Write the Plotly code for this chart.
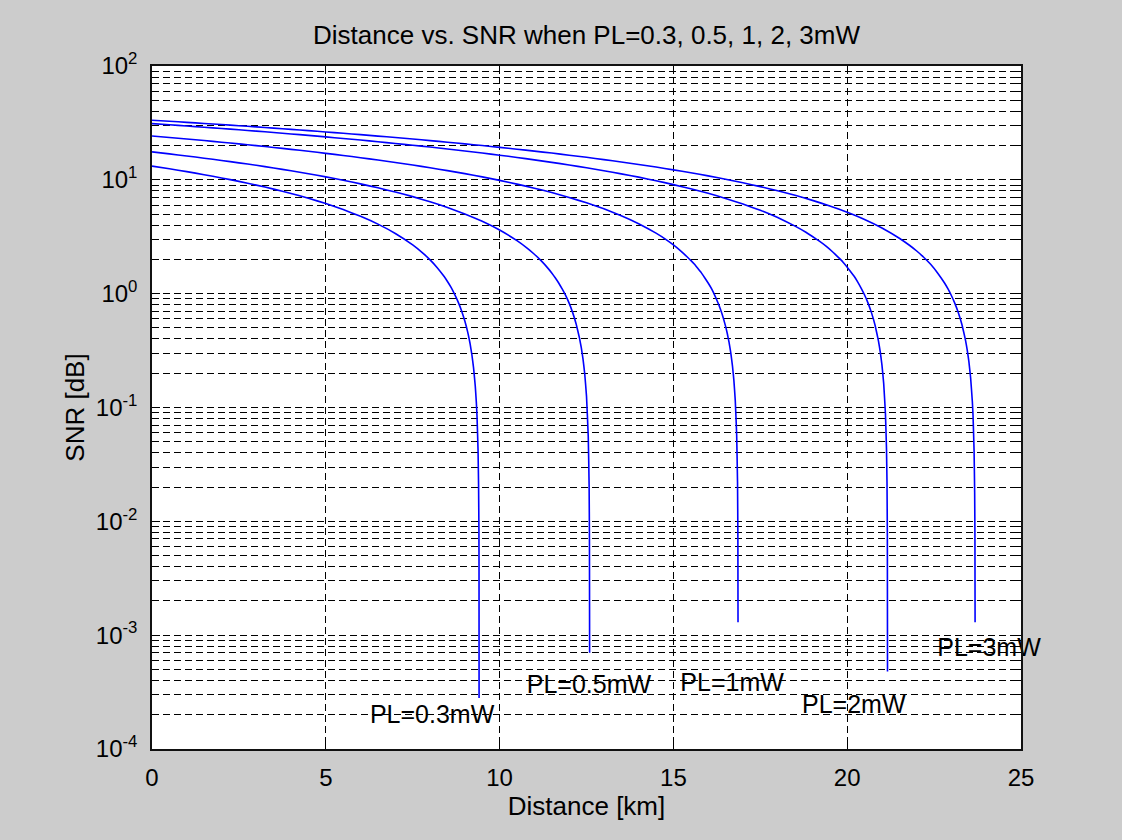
import plotly.graph_objects as go

# ---- data ----
series_names = ["PL=0.3mW", "PL=0.5mW", "PL=1mW", "PL=2mW", "PL=3mW"]

dist_03 = [0, 0.5, 1, 1.5, 2, 2.5, 3, 3.5, 4, 4.5, 5, 5.5, 6, 6.5, 7, 7.5, 7.8, 8, 8.2, 8.4, 8.5,
           8.6, 8.7, 8.8, 8.9, 9.0, 9.05, 9.1, 9.15, 9.2, 9.25, 9.3, 9.33, 9.35, 9.38, 9.395,
           9.405, 9.408, 9.4098]
snr_03 = [13.2, 12.50, 11.80, 11.10, 10.39, 9.69, 8.99, 8.29, 7.59, 6.89, 6.19, 5.48, 4.78, 4.08,
          3.38, 2.68, 2.26, 1.98, 1.70, 1.42, 1.28, 1.14, 0.996, 0.856, 0.715, 0.575, 0.505, 0.435,
          0.365, 0.295, 0.224, 0.154, 0.112, 0.084, 0.042, 0.021, 0.0084, 0.0042, 2.8e-4]

dist_05 = [0, 0.5, 1, 1.5, 2, 2.5, 3, 3.5, 4, 4.5, 5, 5.5, 6, 6.5, 7, 7.5, 8, 8.5, 9, 9.5, 10,
           10.5, 10.8, 11, 11.2, 11.4, 11.5, 11.6, 11.7, 11.8, 11.9, 12.0, 12.1, 12.2, 12.3, 12.35,
           12.4, 12.45, 12.5, 12.55, 12.575, 12.585, 12.5895]
snr_05 = [17.6, 16.90, 16.20, 15.50, 14.80, 14.10, 13.41, 12.71, 12.01, 11.31, 10.61, 9.91, 9.21,
          8.51, 7.81, 7.12, 6.42, 5.72, 5.02, 4.32, 3.62, 2.92, 2.50, 2.22, 1.94, 1.66, 1.52, 1.38,
          1.24, 1.10, 0.965, 0.825, 0.685, 0.545, 0.405, 0.335, 0.266, 0.196, 0.126, 0.056, 0.021,
          0.007, 7.0e-4]

dist_1 = [0, 0.5, 1, 1.5, 2, 2.5, 3, 3.5, 4, 4.5, 5, 5.5, 6, 6.5, 7, 7.5, 8, 8.5, 9, 9.5, 10,
          10.5, 11, 11.5, 12, 12.5, 13, 13.5, 14, 14.5, 14.8, 15, 15.2, 15.4, 15.5, 15.6, 15.7,
          15.8, 15.9, 16.0, 16.1, 16.2, 16.3, 16.4, 16.5, 16.55, 16.6, 16.65, 16.7, 16.74, 16.78,
          16.82, 16.845, 16.855, 16.8591]
snr_1 = [24.3, 23.58, 22.86, 22.14, 21.42, 20.70, 19.98, 19.26, 18.53, 17.81, 17.09, 16.37, 15.65,
         14.93, 14.21, 13.49, 12.77, 12.05, 11.33, 10.61, 9.89, 9.17, 8.45, 7.73, 7.00, 6.28, 5.56,
         4.84, 4.12, 3.40, 2.97, 2.68, 2.39, 2.10, 1.96, 1.82, 1.67, 1.53, 1.38, 1.24, 1.10, 0.951,
         0.807, 0.663, 0.519, 0.447, 0.375, 0.303, 0.231, 0.173, 0.115, 0.058, 0.022, 0.0072, 1.3e-3]

dist_2 = [0, 0.5, 1, 1.5, 2, 2.5, 3, 3.5, 4, 4.5, 5, 5.5, 6, 6.5, 7, 7.5, 8, 8.5, 9, 9.5, 10,
          10.5, 11, 11.5, 12, 12.5, 13, 13.5, 14, 14.5, 15, 15.5, 16, 16.5, 17, 17.5, 18, 18.5,
          18.8, 19, 19.2, 19.4, 19.6, 19.7, 19.8, 19.9, 20, 20.1, 20.2, 20.3, 20.4, 20.5, 20.6,
          20.7, 20.8, 20.9, 20.95, 21.0, 21.05, 21.1, 21.13, 21.145, 21.155, 21.1597]
snr_2 = [31.2, 30.46, 29.73, 28.99, 28.25, 27.51, 26.78, 26.04, 25.30, 24.57, 23.83, 23.09, 22.35,
         21.62, 20.88, 20.14, 19.40, 18.67, 17.93, 17.19, 16.46, 15.72, 14.98, 14.24, 13.51, 12.77,
         12.03, 11.29, 10.56, 9.82, 9.08, 8.35, 7.61, 6.87, 6.13, 5.40, 4.66, 3.92, 3.48, 3.18,
         2.89, 2.60, 2.30, 2.15, 2.01, 1.86, 1.71, 1.56, 1.42, 1.27, 1.12, 0.973, 0.826, 0.678,
         0.531, 0.383, 0.310, 0.236, 0.162, 0.088, 0.044, 0.022, 0.0074, 4.8e-4]

dist_3 = [0, 0.5, 1, 1.5, 2, 2.5, 3, 3.5, 4, 4.5, 5, 5.5, 6, 6.5, 7, 7.5, 8, 8.5, 9, 9.5, 10,
          10.5, 11, 11.5, 12, 12.5, 13, 13.5, 14, 14.5, 15, 15.5, 16, 16.5, 17, 17.5, 18, 18.5,
          19, 19.5, 20, 20.5, 21, 21.5, 21.8, 22, 22.2, 22.4, 22.6, 22.8, 22.9, 23.0, 23.1, 23.2,
          23.3, 23.4, 23.45, 23.5, 23.55, 23.6, 23.62, 23.65, 23.667, 23.675, 23.6791]
snr_3 = [33.4, 32.69, 31.99, 31.28, 30.58, 29.87, 29.17, 28.46, 27.76, 27.05, 26.35, 25.64, 24.94,
         24.23, 23.53, 22.82, 22.12, 21.41, 20.71, 20.00, 19.30, 18.59, 17.88, 17.18, 16.47, 15.77,
         15.06, 14.36, 13.65, 12.95, 12.24, 11.54, 10.83, 10.13, 9.42, 8.72, 8.01, 7.31, 6.60,
         5.90, 5.19, 4.49, 3.78, 3.07, 2.65, 2.37, 2.09, 1.81, 1.52, 1.24, 1.10, 0.959, 0.818,
         0.677, 0.536, 0.395, 0.324, 0.254, 0.183, 0.113, 0.085, 0.042, 0.018, 0.0071, 1.3e-3]

label_text = ["PL=0.3mW", "PL=0.5mW", "PL=1mW", "PL=2mW", "PL=3mW"]
label_x = [6.27, 10.78, 15.20, 18.70, 22.59]
label_y = [1.92e-4, 3.49e-4, 3.66e-4, 2.36e-4, 7.4e-4]

x_ticks = [0, 5, 10, 15, 20, 25]
y_ticks = [1e-4, 1e-3, 1e-2, 1e-1, 1e0, 1e1, 1e2]
y_ticktext = ["10<sup>-4</sup>", "10<sup>-3</sup>", "10<sup>-2</sup>", "10<sup>-1</sup>",
              "10<sup>0</sup>", "10<sup>1</sup>", "10<sup>2</sup>"]
y_minor = [2e-4, 3e-4, 4e-4, 5e-4, 6e-4, 7e-4, 8e-4, 9e-4,
           2e-3, 3e-3, 4e-3, 5e-3, 6e-3, 7e-3, 8e-3, 9e-3,
           2e-2, 3e-2, 4e-2, 5e-2, 6e-2, 7e-2, 8e-2, 9e-2,
           0.2, 0.3, 0.4, 0.5, 0.6, 0.7, 0.8, 0.9,
           2, 3, 4, 5, 6, 7, 8, 9,
           20, 30, 40, 50, 60, 70, 80, 90]

title_text = "Distance vs. SNR when PL=0.3, 0.5, 1, 2, 3mW"
x_title = "Distance [km]"
y_title = "SNR [dB]"

FONT = "Liberation Sans, Arial, sans-serif"
GRID_DASH = "7px,4px"
GRID_COLOR = "#000000"

fig = go.Figure()
all_d = [dist_03, dist_05, dist_1, dist_2, dist_3]
all_s = [snr_03, snr_05, snr_1, snr_2, snr_3]
for name, d, s in zip(series_names, all_d, all_s):
    fig.add_trace(go.Scatter(x=d, y=s, mode="lines", name=name,
                             line=dict(color="#0000ff", width=1.6, shape="spline", smoothing=0.3),
                             showlegend=False, hoverinfo="skip"))

fig.add_trace(go.Scatter(x=label_x, y=label_y, mode="text", text=label_text,
                         textposition="middle right", cliponaxis=False,
                         textfont=dict(family=FONT, size=25, color="black"),
                         showlegend=False, hoverinfo="skip"))

fig.update_layout(
    width=1122, height=840,
    paper_bgcolor="#cccccc", plot_bgcolor="white",
    margin=dict(l=152, r=101, t=66, b=91, pad=0, autoexpand=False),
    font=dict(family=FONT, size=24, color="black"),
    title=dict(text=title_text, x=0.5, xref="paper", xanchor="center",
               y=1 - 35 / 840, yref="container", yanchor="middle",
               font=dict(family=FONT, size=26, color="black")),
    xaxis=dict(range=[0, 25], tickvals=x_ticks, ticks="inside", ticklen=8,
               tickcolor="black", showline=True, linecolor="#111", linewidth=1.5,
               mirror="ticks", showgrid=True, gridcolor=GRID_COLOR, gridwidth=1.2,
               griddash=GRID_DASH, zeroline=False, ticklabelstandoff=6,
               tickfont=dict(size=24),
               title=dict(text=x_title, standoff=6, font=dict(size=26))),
    yaxis=dict(type="log", range=[-4, 2], tickvals=y_ticks, ticktext=y_ticktext,
               ticks="inside", ticklen=8, tickcolor="black",
               showline=True, linecolor="#111", linewidth=1.5, mirror="ticks",
               showgrid=True, gridcolor=GRID_COLOR, gridwidth=1.2, griddash=GRID_DASH,
               zeroline=False, ticklabelstandoff=8, tickfont=dict(size=24),
               minor=dict(tickvals=y_minor, ticks="inside", ticklen=5,
                          tickcolor="black", showgrid=True, gridcolor=GRID_COLOR,
                          gridwidth=1.2, griddash=GRID_DASH),
               title=dict(text=y_title, standoff=4, font=dict(size=26))),
)

fig.write_html("out.html")
